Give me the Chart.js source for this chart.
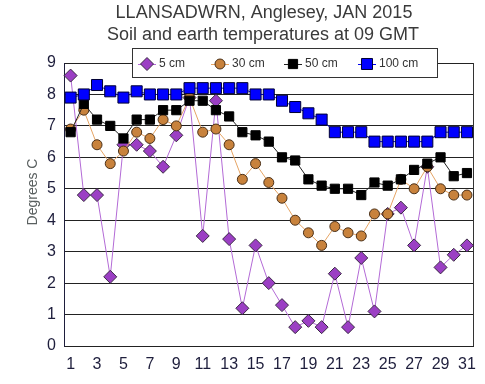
<!DOCTYPE html>
<html>
<head>
<meta charset="utf-8">
<script src="https://cdn.jsdelivr.net/npm/chart.js@4"></script>
<style>
  html, body { margin: 0; padding: 0; background: #fff; }
  #wrap { width: 485px; height: 384px; }
</style>
</head>
<body>
<div id="wrap"><canvas id="myChart" width="485" height="384"></canvas></div>
<script>
// days of the month
const days = ["1","2","3","4","5","6","7","8","9","10","11","12","13","14","15","16",
              "17","18","19","20","21","22","23","24","25","26","27","28","29","30","31"];

// soil temperatures (degrees C)
const cm5   = [8.6,4.8,4.8,2.2,6.4,6.4,6.2,5.7,6.7,7.9,3.5,7.8,3.4,1.2,3.2,2.0,1.3,0.6,0.8,0.6,2.3,0.6,2.8,1.1,4.2,4.4,3.2,5.7,2.5,2.9,3.2];
const cm30  = [6.9,7.5,6.4,5.8,6.2,6.8,6.6,7.2,7.0,7.9,6.8,6.9,6.4,5.3,5.8,5.2,4.7,4.0,3.6,3.2,3.8,3.6,3.5,4.2,4.2,5.3,5.0,5.7,5.0,4.8,4.8];
const cm50  = [6.8,7.7,7.2,7.0,6.6,7.2,7.2,7.5,7.5,7.8,7.8,7.5,7.3,6.8,6.7,6.5,6.0,5.9,5.3,5.1,5.0,5.0,4.8,5.2,5.1,5.3,5.6,5.8,6.0,5.4,5.5];
const cm100 = [7.9,8.0,8.3,8.1,7.9,8.1,8.0,8.0,8.0,8.2,8.2,8.2,8.2,8.2,8.0,8.0,7.8,7.6,7.4,7.2,6.8,6.8,6.8,6.5,6.5,6.5,6.5,6.5,6.8,6.8,6.8];

const seriesNames = ["5 cm", "30 cm", "50 cm", "100 cm"];
const titleLines = ["LLANSADWRN, Anglesey, JAN 2015", "Soil and earth temperatures at 09 GMT"];
const yTitle = "Degrees C";

const FONT = "'Liberation Sans', Arial, sans-serif";

// legend x positions (marker centre) for each series
const legendX = [147, 220, 293, 367];

// titles, frame and the boxed legend
const decorations = {
  id: 'decorations',
  beforeDatasetsDraw(chart) {
    const ctx = chart.ctx;
    const a = chart.chartArea;
    ctx.save();
    ctx.strokeStyle = '#333';
    ctx.lineWidth = 1;
    ctx.beginPath();
    ctx.moveTo(Math.round(a.right) - 0.5, a.top);
    ctx.lineTo(Math.round(a.right) - 0.5, a.bottom);
    ctx.stroke();
    ctx.restore();
  },
  afterDraw(chart) {
    const ctx = chart.ctx;
    ctx.save();
    // main title
    ctx.fillStyle = '#3a3a3a';
    ctx.font = '18px ' + FONT;
    ctx.textAlign = 'center';
    ctx.textBaseline = 'middle';
    ctx.fillText(titleLines[0], 264, 13);
    ctx.fillText(titleLines[1], 263, 35);

    // y axis title
    ctx.save();
    ctx.translate(33, 192);
    ctx.rotate(-Math.PI / 2);
    ctx.fillStyle = '#5a6060';
    ctx.font = '14px ' + FONT;
    ctx.fillText(yTitle, 0, 0);
    ctx.restore();

    // legend box
    ctx.fillStyle = '#fff';
    ctx.fillRect(132, 48, 305, 29);
    ctx.strokeStyle = '#333';
    ctx.lineWidth = 1;
    ctx.strokeRect(132.5, 48.5, 305, 29);

    const ly = 64;
    chart.data.datasets.forEach((ds, i) => {
      const x = legendX[i];
      ctx.strokeStyle = ds.borderColor;
      ctx.lineWidth = 1;
      ctx.beginPath();
      ctx.moveTo(x - 9, ly + 0.5);
      ctx.lineTo(x + 9, ly + 0.5);
      ctx.stroke();
      ctx.fillStyle = ds.pointBackgroundColor;
      ctx.strokeStyle = ds.pointBorderColor;
      Chart.helpers.drawPoint(ctx, {
        pointStyle: ds.pointStyle,
        radius: ds.pointRadius,
        rotation: 0,
        borderWidth: 1
      }, x, ly);
      ctx.fillStyle = '#333';
      ctx.font = '12px ' + FONT;
      ctx.textAlign = 'left';
      ctx.fillText(ds.label, x + 12, ly);
    });
    ctx.restore();
  }
};

const ctx = document.getElementById('myChart').getContext('2d');

const myChart = new Chart(ctx, {
  type: 'line',
  data: {
    labels: days,
    datasets: [
      {
        label: seriesNames[0],
        data: cm5,
        borderColor: '#b36ad6',
        borderWidth: 1,
        pointStyle: 'rectRot',
        pointRadius: 6.5,
        pointBackgroundColor: '#9b3fc4',
        pointBorderColor: '#3a2a44',
        pointBorderWidth: 1,
        order: 4
      },
      {
        label: seriesNames[1],
        data: cm30,
        borderColor: '#e6a565',
        borderWidth: 1,
        pointStyle: 'circle',
        pointRadius: 5,
        pointBackgroundColor: '#c8823c',
        pointBorderColor: '#4a3018',
        pointBorderWidth: 1,
        order: 3
      },
      {
        label: seriesNames[2],
        data: cm50,
        borderColor: '#222',
        borderWidth: 1,
        pointStyle: 'rect',
        pointRadius: 6.5,
        pointBackgroundColor: '#000',
        pointBorderColor: '#000',
        pointBorderWidth: 1,
        order: 2
      },
      {
        label: seriesNames[3],
        data: cm100,
        borderColor: '#0000ee',
        borderWidth: 1,
        pointStyle: 'rect',
        pointRadius: 7.8,
        pointBackgroundColor: '#0000ff',
        pointBorderColor: '#000033',
        pointBorderWidth: 1,
        order: 1
      }
    ]
  },
  options: {
    responsive: false,
    animation: false,
    layout: { padding: { top: 63, right: 9, left: 0, bottom: 0 } },
    plugins: {
      legend: { display: false },
      title: { display: false },
      tooltip: { enabled: false }
    },
    scales: {
      x: {
        offset: true,
        grid: { display: false, drawTicks: false },
        border: { display: true, color: '#222', width: 1 },
        ticks: {
          autoSkip: false,
          maxRotation: 0,
          padding: 9,
          color: '#1e1e3c',
          font: { family: FONT, size: 16 },
          callback: (v, i) => (i % 2 === 0 ? days[i] : '')
        },
        afterFit: (scale) => { scale.height = 38; }
      },
      y: {
        min: 0,
        max: 9,
        grid: { color: '#222', lineWidth: 1, drawTicks: false },
        border: { display: true, color: '#1e1e3c', width: 1 },
        ticks: {
          stepSize: 1,
          padding: 8,
          color: '#1e1e3c',
          font: { family: FONT, size: 16 }
        },
        afterFit: (scale) => { scale.width = 64; }
      }
    }
  },
  plugins: [decorations]
});
</script>
</body>
</html>
